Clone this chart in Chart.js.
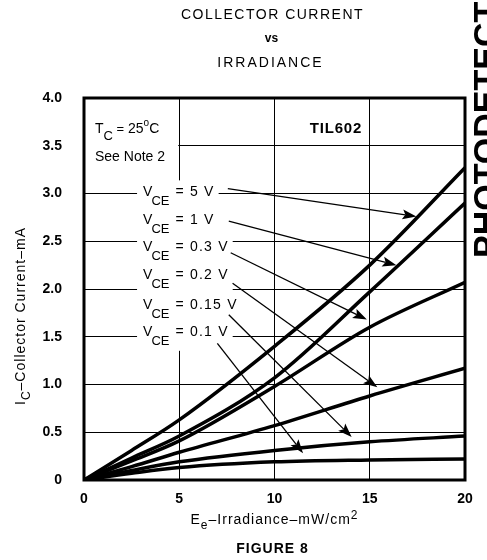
<!DOCTYPE html>
<html>
<head>
<meta charset="utf-8">
<script src="https://cdn.jsdelivr.net/npm/chart.js@4/dist/chart.umd.min.js"></script>
<style>
  html, body { margin: 0; padding: 0; background: #fff; }
  canvas { display: block; }
</style>
</head>
<body>
<canvas id="chart" width="487" height="560"></canvas>
<script>
/* ================================
   DATA
================================ */

const irradiance = [0, 2.5, 5, 10, 15, 20];          // mW/cm2
const ic5V   = [0, 0.31, 0.63, 1.40, 2.25, 3.27];    // mA
const ic1V   = [0, 0.23, 0.46, 1.07, 1.97, 2.90];
const ic03V  = [0, 0.20, 0.41, 0.98, 1.60, 2.07];
const ic02V  = [0, 0.14, 0.29, 0.57, 0.88, 1.17];
const ic015V = [0, 0.10, 0.19, 0.31, 0.40, 0.46];
const ic01V  = [0, 0.07, 0.13, 0.19, 0.21, 0.22];

const vceValues = ["5", "1", "0.3", "0.2", "0.15", "0.1"];
const xTicks = [0, 5, 10, 15, 20];
const yTicks = [0, 0.5, 1, 1.5, 2, 2.5, 3, 3.5, 4];

/* label text start + arrow (data units) */
const labelPos = [[3.1, 2.97], [3.1, 2.68], [3.1, 2.40], [3.1, 2.10], [3.1, 1.79], [3.1, 1.51]];
const arrowFrom = [[7.55, 3.05], [7.6, 2.71], [7.7, 2.38], [7.8, 2.06], [7.6, 1.73], [7.0, 1.43]];
const arrowTo = [[17.45, 2.76], [16.4, 2.25], [14.85, 1.68], [15.4, 0.97], [14.05, 0.45], [11.5, 0.28]];

/* ================================
   HELPERS
================================ */

const FONT = '"Liberation Sans", Arial, sans-serif';

function pts(ys) {
  return irradiance.map((x, i) => ({ x: x, y: ys[i] }));
}

function curve(ys) {
  return {
    data: pts(ys),
    borderColor: "#000",
    borderWidth: 3.5,
    pointRadius: 0,
    fill: false,
    cubicInterpolationMode: "monotone"
  };
}

// widths of V, CE and " = x V"
function vceParts(ctx, v) {
  ctx.letterSpacing = "0px";
  ctx.font = "14px " + FONT;
  const a = ctx.measureText("V").width;
  ctx.font = "13px " + FONT;
  const b = ctx.measureText("CE").width;
  ctx.font = "14px " + FONT;
  ctx.letterSpacing = "1.2px";
  const c = ctx.measureText(" = " + v + " V").width;
  ctx.letterSpacing = "0px";
  return [a, b, c];
}

function drawVce(ctx, x, y, v) {
  const [a, b] = vceParts(ctx, v);
  ctx.fillStyle = "#000";
  ctx.textAlign = "left";
  ctx.textBaseline = "alphabetic";
  ctx.font = "14px " + FONT;
  ctx.fillText("V", x, y);
  ctx.font = "13px " + FONT;
  ctx.fillText("CE", x + a - 1, y + 9);
  ctx.font = "14px " + FONT;
  ctx.letterSpacing = "1.2px";
  ctx.fillText(" = " + v + " V", x + a + b, y);
  ctx.letterSpacing = "0px";
}

function arrow(ctx, x1, y1, x2, y2) {
  const ang = Math.atan2(y2 - y1, x2 - x1);
  const len = 14, half = 5;
  const c = Math.cos(ang), s = Math.sin(ang);
  ctx.strokeStyle = "#000";
  ctx.lineWidth = 1.3;
  ctx.beginPath();
  ctx.moveTo(x1, y1);
  ctx.lineTo(x2 - c * len * 0.8, y2 - s * len * 0.8);
  ctx.stroke();
  ctx.fillStyle = "#000";
  ctx.beginPath();
  ctx.moveTo(x2, y2);
  ctx.lineTo(x2 - c * len - s * half, y2 - s * len + c * half);
  ctx.lineTo(x2 - c * len * 0.8, y2 - s * len * 0.8);
  ctx.lineTo(x2 - c * len + s * half, y2 - s * len - c * half);
  ctx.closePath();
  ctx.fill();
}

// text made of pieces: [text, fontSize, dy, weight]
function pieces(ctx, list, x, y) {
  list.forEach(p => {
    ctx.font = (p[3] || "") + " " + p[1] + "px " + FONT;
    ctx.fillText(p[0], x, y + p[2]);
    x += ctx.measureText(p[0]).width;
  });
}

function piecesWidth(ctx, list) {
  return list.reduce((w, p) => {
    ctx.font = (p[3] || "") + " " + p[1] + "px " + FONT;
    return w + ctx.measureText(p[0]).width;
  }, 0);
}

/* ================================
   ANNOTATION PLUGIN
================================ */

const annotations = {
  id: "annotations",

  // white boxes that break the grid under the texts
  beforeDatasetsDraw(chart) {
    const ctx = chart.ctx, a = chart.chartArea;
    const xs = chart.scales.x, ys = chart.scales.y;
    ctx.save();
    ctx.fillStyle = "#fff";
    ctx.fillRect(a.left, a.top, xs.getPixelForValue(5) - a.left - 1, ys.getPixelForValue(3.35) - a.top);
    labelPos.forEach((p, i) => {
      const x = xs.getPixelForValue(p[0]);
      const y = ys.getPixelForValue(p[1]);
      const w = vceParts(ctx, vceValues[i]).reduce((s, v) => s + v, 0);
      ctx.fillRect(x - 6, y - 16, w + 10, 31);
    });
    ctx.restore();
  },

  afterDatasetsDraw(chart) {
    const ctx = chart.ctx, a = chart.chartArea;
    const xs = chart.scales.x, ys = chart.scales.y;
    ctx.save();

    // frame
    ctx.strokeStyle = "#000";
    ctx.lineWidth = 3;
    ctx.strokeRect(a.left, a.top, a.right - a.left, a.bottom - a.top);

    // labels and arrows
    labelPos.forEach((p, i) => {
      drawVce(ctx, xs.getPixelForValue(p[0]), ys.getPixelForValue(p[1]), vceValues[i]);
      arrow(ctx,
        xs.getPixelForValue(arrowFrom[i][0]), ys.getPixelForValue(arrowFrom[i][1]),
        xs.getPixelForValue(arrowTo[i][0]), ys.getPixelForValue(arrowTo[i][1]));
    });

    // T_C = 25 C, See Note 2
    ctx.fillStyle = "#000";
    ctx.textAlign = "left";
    ctx.textBaseline = "alphabetic";
    pieces(ctx, [["T", 14, 0], ["C", 13, 7], [" =", 13, 0], [" 25", 14, 0], ["o", 10, -7], ["C", 14, 0]],
      a.left + 11, a.top + 35);
    ctx.font = "14px " + FONT;
    ctx.fillText("See Note 2", a.left + 11, a.top + 63);

    // device name
    ctx.font = "bold 15px " + FONT;
    ctx.letterSpacing = "0.8px";
    ctx.textAlign = "right";
    ctx.fillText("TIL602", xs.getPixelForValue(14.6), a.top + 35);
    ctx.letterSpacing = "0px";
    ctx.restore();
  },

  afterDraw(chart) {
    const ctx = chart.ctx, a = chart.chartArea;
    const cx = (a.left + a.right) / 2;
    ctx.save();
    ctx.fillStyle = "#000";
    ctx.textBaseline = "alphabetic";

    // title
    ctx.textAlign = "center";
    ctx.font = "14px " + FONT;
    ctx.letterSpacing = "1.5px";
    ctx.fillText("COLLECTOR CURRENT", cx - 2, 19);
    ctx.letterSpacing = "2px";
    ctx.fillText("IRRADIANCE", cx - 4, 67);
    ctx.font = "bold 12px " + FONT;
    ctx.letterSpacing = "0px";
    ctx.fillText("vs", cx - 3, 42);

    // x axis title: Ee-Irradiance-mW/cm2
    ctx.textAlign = "left";
    ctx.letterSpacing = "1px";
    const xt = [["E", 14, 0], ["e", 12, 5], ["\u2013Irradiance\u2013mW/cm", 14, 0], ["2", 12, -5]];
    pieces(ctx, xt, cx - piecesWidth(ctx, xt) / 2, 524);

    // y axis title: IC-Collector Current-mA
    ctx.save();
    ctx.translate(25, 316);
    ctx.rotate(-Math.PI / 2);
    ctx.letterSpacing = "1px";
    const yt = [["I", 14, 0], ["C", 12, 5], ["\u2013Collector Current\u2013mA", 14, 0]];
    pieces(ctx, yt, -piecesWidth(ctx, yt) / 2, 0);
    ctx.restore();

    // figure caption
    ctx.textAlign = "center";
    ctx.font = "bold 14px " + FONT;
    ctx.letterSpacing = "1px";
    ctx.fillText("FIGURE 8", cx - 2, 553);
    ctx.letterSpacing = "0px";

    // page edge fragment
    ctx.save();
    ctx.translate(497, 258);
    ctx.rotate(-Math.PI / 2);
    ctx.textAlign = "left";
    ctx.font = "bold 34px " + FONT;
    ctx.fillText("PHOTODETECT", 0, 0);
    ctx.restore();

    ctx.restore();
  }
};

/* ================================
   CHART
================================ */

new Chart(document.getElementById("chart"), {
  type: "line",
  data: {
    datasets: [curve(ic5V), curve(ic1V), curve(ic03V), curve(ic02V), curve(ic015V), curve(ic01V)]
  },
  options: {
    responsive: false,
    animation: false,
    devicePixelRatio: 1,
    layout: { padding: { top: 98, right: 22, left: 0, bottom: 0 } },
    plugins: { legend: { display: false }, tooltip: { enabled: false } },
    scales: {
      x: {
        type: "linear",
        min: 0,
        max: 20,
        afterBuildTicks: s => { s.ticks = xTicks.map(v => ({ value: v })); },
        afterFit: s => { s.height = 80; },
        grid: { color: "#000", lineWidth: 1, drawTicks: false },
        border: { display: false },
        ticks: { color: "#000", padding: 11, font: { family: FONT, size: 14, weight: "bold" } }
      },
      y: {
        type: "linear",
        min: 0,
        max: 4,
        afterBuildTicks: s => { s.ticks = yTicks.map(v => ({ value: v })); },
        afterFit: s => { s.width = 84; },
        grid: { color: "#000", lineWidth: 1, drawTicks: false },
        border: { display: false },
        ticks: {
          color: "#000",
          padding: 22,
          font: { family: FONT, size: 14, weight: "bold" },
          callback: v => (v === 0 ? "0" : v.toFixed(1))
        }
      }
    }
  },
  plugins: [annotations]
});
</script>
</body>
</html>
